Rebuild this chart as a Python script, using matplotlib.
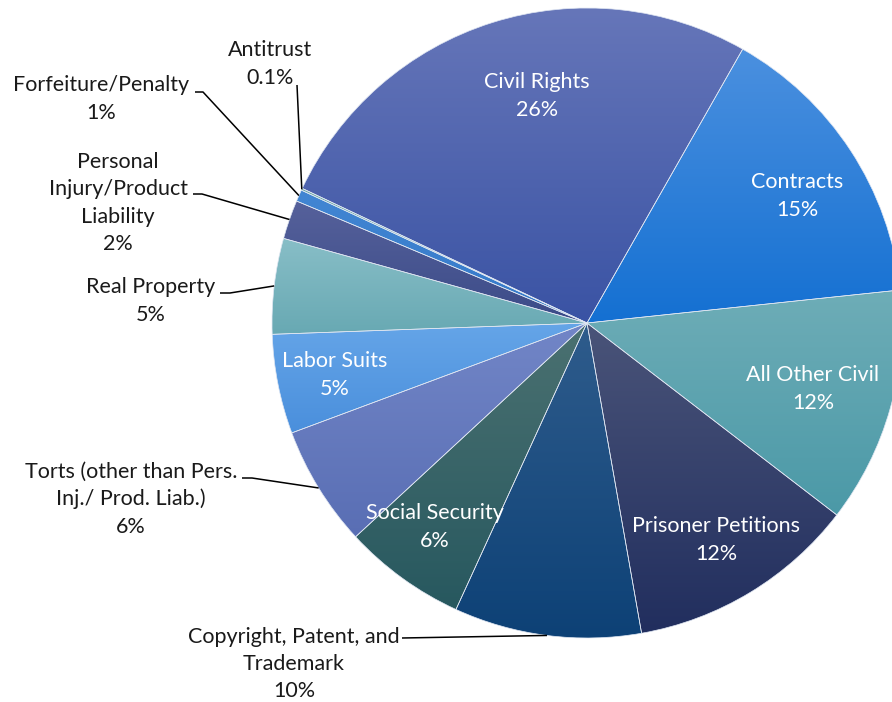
import numpy as np
import matplotlib
matplotlib.use("Agg")
import matplotlib.pyplot as plt
from matplotlib.colors import LinearSegmentedColormap

# share of civil cases by nature of suit (clockwise from Civil Rights)
categories = ["Civil Rights", "Contracts", "All Other Civil", "Prisoner Petitions",
              "Copyright, Patent, and\nTrademark", "Social Security",
              "Torts (other than Pers.\nInj./ Prod. Liab.)", "Labor Suits", "Real Property",
              "Personal\nInjury/Product\nLiability", "Forfeiture/Penalty", "Antitrust"]
shares = [26.2, 15.1, 12.1, 11.8, 9.6, 6.3, 6.2, 5.1, 4.9, 2.0, 0.6, 0.1]
pct_labels = ["26%", "15%", "12%", "12%", "10%", "6%", "6%", "5%", "5%", "2%", "1%", "0.1%"]

# gradient colours (top, bottom) per slice
grad_colors = [("#6676b9", "#3a53a4"), ("#4b90df", "#1470d2"), ("#6eadb7", "#4b99a7"),
               ("#4a5479", "#212e5e"), ("#2f5c8c", "#0d4176"), ("#4b7171", "#27585f"),
               ("#7286c7", "#596eb4"), ("#65a5e8", "#4a8fdc"), ("#88bec7", "#68a9b3"),
               ("#56619b", "#3b4b88"), ("#4286d3", "#3479c8"), ("#6eaaa9", "#5fa0a3")]

# layout (pixels in the 892x702 canvas)
CX, CY, R = 587, 323, 315
inside = {0: (537, 96), 1: (797, 196), 2: (813, 389), 3: (716, 540), 5: (435, 527), 7: (335, 375)}
outside = {  # label center, leader start points
    11: ((270, 64), [(297, 85)]),
    10: ((101, 99), [(195, 92), (203, 92)]),
    9: ((118, 203), [(193, 194), (202, 194)]),
    8: ((151, 301), [(220, 293), (230, 293)]),
    6: ((131, 499), [(242, 478), (252, 478)]),
    4: ((294, 664), [(402, 638)]),
}


def px(x, y):
    return (x - CX) / R, (CY - y) / R


plt.rcParams['font.family'] = ['Lato', 'DejaVu Sans']

fig = plt.figure(figsize=(8.92, 7.02), dpi=100)
ax = fig.add_axes([0, 0, 1, 1])

wedges, _ = ax.pie(shares, startangle=154.7, counterclock=False, radius=1,
                   wedgeprops=dict(facecolor="none", edgecolor="#dfe6f2", linewidth=0.5))

for w, (top, bot) in zip(wedges, grad_colors):
    w.set_zorder(3)
    bb = w.get_path().get_extents()
    cmap = LinearSegmentedColormap.from_list("g", [bot, top])
    grad = np.linspace(0, 1, 256).reshape(-1, 1)
    im = ax.imshow(grad, cmap=cmap, origin="lower", aspect="auto",
                   extent=[bb.x0, bb.x1, bb.y0, bb.y1], zorder=2, interpolation="bilinear")
    im.set_clip_path(w)

fs = 15.5
ls = 1.45
for i, (x, y) in inside.items():
    tx, ty = px(x, y)
    ax.text(tx, ty, f"{categories[i]}\n{pct_labels[i]}", color="white", fontsize=fs,
            ha="center", va="center", multialignment="center", linespacing=ls, zorder=5)

for i, ((x, y), starts) in outside.items():
    tx, ty = px(x, y)
    ax.text(tx, ty, f"{categories[i]}\n{pct_labels[i]}", color="#1a1a1a", fontsize=fs,
            ha="center", va="center", multialignment="center", linespacing=ls, zorder=5)
    w = wedges[i]
    mid = np.deg2rad((w.theta1 + w.theta2) / 2)
    pts = [px(*p) for p in starts] + [(np.cos(mid), np.sin(mid))]
    xs, ys = zip(*pts)
    ax.plot(xs, ys, color="black", lw=1.1, zorder=4, solid_capstyle="butt")

ax.set_xlim(-CX / R, (892 - CX) / R)
ax.set_ylim((CY - 702) / R, CY / R)
ax.axis("off")

fig.savefig("out.png", dpi=100)
